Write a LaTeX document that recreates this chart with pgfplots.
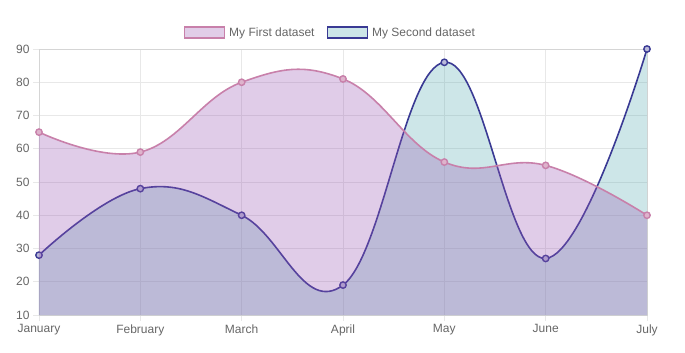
\documentclass[border=0pt]{standalone}
\usepackage{fontspec}
\setmainfont{Liberation Sans}
\usepackage{pgfplots}
\pgfplotsset{compat=1.18}
\definecolor{txt}{RGB}{102,102,102}
\definecolor{gridc}{RGB}{232,232,232}
\definecolor{pinkline}{RGB}{200,128,170}
\definecolor{pinkfill}{RGB}{152,85,178}
\definecolor{blueline}{RGB}{58,58,148}
\definecolor{tealfill}{RGB}{88,172,178}
\definecolor{pinklegend}{RGB}{225,205,232}
\definecolor{teallegend}{RGB}{205,230,232}
\begin{document}
\begin{tikzpicture}
\path[use as bounding box] (-39pt,-38pt) rectangle (646pt,315pt);
\begin{axis}[
  at={(0,0)}, anchor=south west,
  scale only axis, width=608pt, height=266pt,
  xmin=0, xmax=6, ymin=10, ymax=90,
  xtick={0,...,6},
  xticklabels={January,February,March,April,May,June,July},
  ytick={10,20,...,90},
  xtick pos=bottom, ytick pos=left,
  grid=major,
  major grid style={gridc, line width=0.8pt},
  axis line style={draw=gridc!92!black, line width=0.8pt},
  tick style={draw=gridc, line width=0.8pt},
  major tick length=6pt, tick align=outside,
  ticklabel style={font=\fontsize{12}{14}\selectfont, text=txt},
  /pgf/number format/assume math mode=true,
  clip mode=individual,
  legend style={at={(0.479,1)}, anchor=south, yshift=9pt, draw=none,
    fill=none, inner sep=0pt,
    font=\fontsize{12}{14}\selectfont, text=txt,
    /tikz/every odd column/.append style={column sep=2pt},
    /tikz/every even column/.append style={column sep=10pt}},
  legend columns=2,
]
% second dataset (drawn first)
\addplot[draw=none, fill=tealfill, fill opacity=0.3, smooth, tension=0.7, forget plot]
  coordinates {(0,28)(1,48)(2,40)(3,19)(4,86)(5,27)(6,90)} \closedcycle;
\addplot[blueline, line width=1.6pt, smooth, tension=0.7, mark=*,
  mark size=3.2pt, mark options={fill=blueline!35!white, draw=blueline, line width=1.4pt}, forget plot]
  coordinates {(0,28)(1,48)(2,40)(3,19)(4,86)(5,27)(6,90)};
% first dataset
\addplot[draw=none, fill=pinkfill, fill opacity=0.3, smooth, tension=0.7, forget plot]
  coordinates {(0,65)(1,59)(2,80)(3,81)(4,56)(5,55)(6,40)} \closedcycle;
\addplot[pinkline, line width=1.6pt, smooth, tension=0.7, mark=*,
  mark size=3.2pt, mark options={fill=pinkline!60!white, draw=pinkline, line width=1.4pt}, forget plot]
  coordinates {(0,65)(1,59)(2,80)(3,81)(4,56)(5,55)(6,40)};
\addlegendimage{legend image code/.code={\draw[draw=pinkline, fill=pinklegend, line width=1.6pt] (0pt,-5.5pt) rectangle (40pt,5.5pt);}}
\addlegendentry{My First dataset}
\addlegendimage{legend image code/.code={\draw[draw=blueline, fill=teallegend, line width=1.6pt] (0pt,-5.5pt) rectangle (40pt,5.5pt);}}
\addlegendentry{My Second dataset}
\end{axis}
\end{tikzpicture}
\end{document}
